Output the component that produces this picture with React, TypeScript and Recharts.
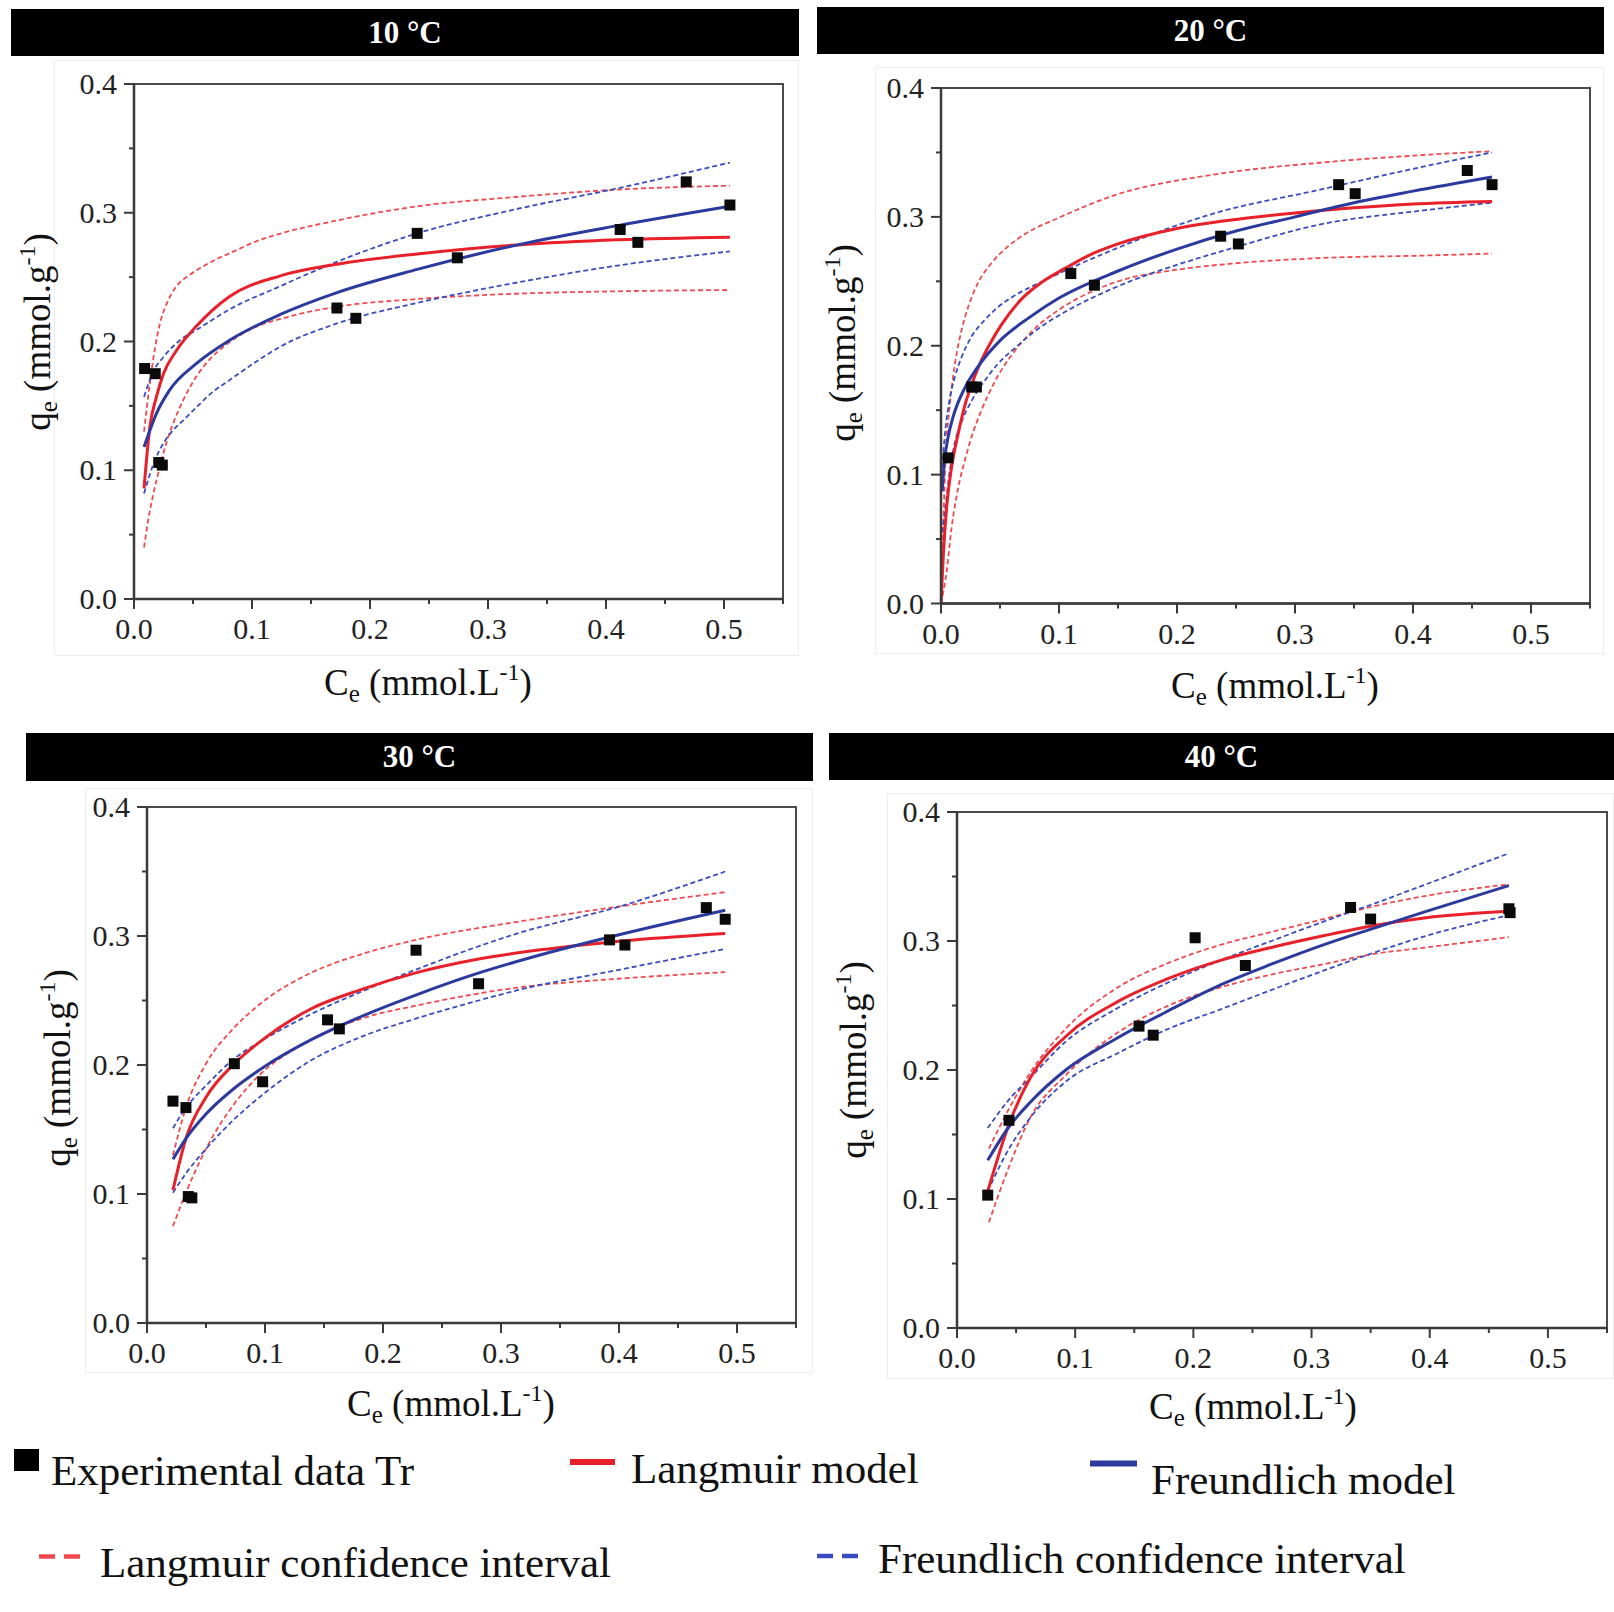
import React from 'react';
import { ComposedChart, Line, Scatter, XAxis, YAxis, ReferenceArea } from 'recharts';

type Pt = [number, number];

// ---------- tick / text data ----------
const X_TICKS = [0, 0.05, 0.1, 0.15, 0.2, 0.25, 0.3, 0.35, 0.4, 0.45, 0.5, 0.55];
const Y_TICKS = [0, 0.05, 0.1, 0.15, 0.2, 0.25, 0.3, 0.35, 0.4];
const PANEL_TITLES = ['10 °C', '20 °C', '30 °C', '40 °C'];
const LEGEND_LABELS = [
  'Experimental data Tr',
  'Langmuir model',
  'Freundlich model',
  'Langmuir confidence interval',
  'Freundlich confidence interval',
];

// ---------- 10 °C ----------
const P1_EXP: Pt[] = [[0.009, 0.179], [0.018, 0.175], [0.021, 0.106], [0.024, 0.104], [0.172, 0.226], [0.188, 0.218], [0.240, 0.284], [0.274, 0.265], [0.412, 0.287], [0.427, 0.277], [0.468, 0.324], [0.505, 0.306]];
const P1_LANG: Pt[] = [[0.0085, 0.086], [0.0135, 0.134], [0.019, 0.157], [0.025, 0.175], [0.036, 0.193], [0.053, 0.212], [0.081, 0.235], [0.124, 0.251], [0.172, 0.260], [0.24, 0.268], [0.325, 0.275], [0.41, 0.279], [0.505, 0.281]];
const P1_LANG_UP: Pt[] = [[0.0085, 0.130], [0.0135, 0.168], [0.018, 0.196], [0.022, 0.214], [0.028, 0.230], [0.036, 0.243], [0.046, 0.251], [0.056, 0.257], [0.07, 0.264], [0.087, 0.271], [0.104, 0.278], [0.121, 0.283], [0.172, 0.294], [0.24, 0.305], [0.32, 0.312], [0.41, 0.318], [0.505, 0.321]];
const P1_LANG_LO: Pt[] = [[0.0085, 0.040], [0.012, 0.061], [0.0165, 0.082], [0.022, 0.103], [0.028, 0.123], [0.033, 0.136], [0.042, 0.155], [0.053, 0.173], [0.064, 0.186], [0.076, 0.196], [0.1, 0.210], [0.13, 0.219], [0.172, 0.227], [0.24, 0.233], [0.32, 0.237], [0.41, 0.239], [0.505, 0.240]];
const P1_FREU: Pt[] = [[0.0085, 0.118], [0.019, 0.144], [0.030, 0.162], [0.053, 0.183], [0.081, 0.201], [0.124, 0.221], [0.172, 0.238], [0.24, 0.256], [0.33, 0.276], [0.41, 0.290], [0.505, 0.305]];
const P1_FREU_UP: Pt[] = [[0.0085, 0.157], [0.0165, 0.177], [0.025, 0.188], [0.039, 0.201], [0.053, 0.209], [0.081, 0.225], [0.124, 0.243], [0.146, 0.252], [0.189, 0.268], [0.24, 0.284], [0.32, 0.302], [0.41, 0.319], [0.505, 0.339]];
const P1_FREU_LO: Pt[] = [[0.0085, 0.082], [0.0178, 0.108], [0.025, 0.121], [0.033, 0.131], [0.042, 0.139], [0.053, 0.149], [0.067, 0.161], [0.081, 0.170], [0.103, 0.184], [0.124, 0.196], [0.172, 0.214], [0.24, 0.230], [0.32, 0.245], [0.41, 0.259], [0.505, 0.270]];

// ---------- 20 °C ----------
const P2_EXP: Pt[] = [[0.006, 0.113], [0.026, 0.168], [0.030, 0.168], [0.110, 0.256], [0.130, 0.247], [0.237, 0.285], [0.252, 0.279], [0.337, 0.325], [0.351, 0.318], [0.446, 0.336], [0.467, 0.325]];
const P2_LANG: Pt[] = [[0, 0], [0.002, 0.038], [0.0048, 0.075], [0.009, 0.106], [0.0146, 0.132], [0.020, 0.153], [0.026, 0.170], [0.0315, 0.183], [0.040, 0.199], [0.051, 0.216], [0.068, 0.236], [0.085, 0.249], [0.105, 0.260], [0.125, 0.270], [0.15, 0.279], [0.2, 0.291], [0.25, 0.298], [0.3, 0.303], [0.35, 0.307], [0.4, 0.310], [0.467, 0.312]];
const P2_LANG_UP: Pt[] = [[0, 0], [0.0015, 0.045], [0.0034, 0.103], [0.0076, 0.155], [0.0118, 0.186], [0.0174, 0.212], [0.023, 0.230], [0.0315, 0.249], [0.0427, 0.264], [0.0567, 0.277], [0.0736, 0.288], [0.099, 0.299], [0.1445, 0.316], [0.2326, 0.333], [0.3207, 0.342], [0.4088, 0.348], [0.467, 0.351]];
const P2_LANG_LO: Pt[] = [[0, 0], [0.0048, 0.025], [0.009, 0.059], [0.0146, 0.090], [0.0202, 0.111], [0.0258, 0.129], [0.0343, 0.150], [0.0455, 0.172], [0.06, 0.193], [0.078, 0.212], [0.1, 0.228], [0.13, 0.243], [0.15, 0.250], [0.2, 0.259], [0.25, 0.264], [0.32, 0.268], [0.41, 0.270], [0.467, 0.2715]];
const P2_FREU: Pt[] = [[0.001, 0.087], [0.003, 0.111], [0.006, 0.129], [0.01, 0.144], [0.02, 0.167], [0.03, 0.182], [0.05, 0.204], [0.075, 0.222], [0.1, 0.237], [0.15, 0.258], [0.2, 0.275], [0.25, 0.289], [0.3, 0.300], [0.35, 0.311], [0.4, 0.320], [0.467, 0.331]];
const P2_FREU_UP: Pt[] = [[0.001, 0.105], [0.0034, 0.132], [0.0076, 0.160], [0.0118, 0.176], [0.0174, 0.191], [0.0258, 0.207], [0.0371, 0.220], [0.0483, 0.230], [0.0624, 0.239], [0.0792, 0.247], [0.1045, 0.258], [0.1445, 0.274], [0.2326, 0.303], [0.3207, 0.321], [0.4088, 0.339], [0.467, 0.350]];
const P2_FREU_LO: Pt[] = [[0.001, 0.055], [0.0034, 0.072], [0.0076, 0.104], [0.0118, 0.125], [0.0174, 0.141], [0.0258, 0.157], [0.0371, 0.173], [0.0483, 0.186], [0.0624, 0.198], [0.0792, 0.211], [0.1045, 0.226], [0.13, 0.238], [0.1445, 0.244], [0.2515, 0.277], [0.3207, 0.294], [0.4088, 0.305], [0.467, 0.311]];

// ---------- 30 °C ----------
const P3_EXP: Pt[] = [[0.022, 0.172], [0.033, 0.167], [0.035, 0.098], [0.038, 0.097], [0.074, 0.201], [0.098, 0.187], [0.153, 0.235], [0.163, 0.228], [0.228, 0.289], [0.281, 0.263], [0.392, 0.297], [0.405, 0.293], [0.474, 0.322], [0.490, 0.313]];
const P3_LANG: Pt[] = [[0.022, 0.103], [0.033, 0.143], [0.05, 0.175], [0.074, 0.201], [0.1, 0.221], [0.14, 0.244], [0.18, 0.258], [0.23, 0.272], [0.28, 0.282], [0.34, 0.290], [0.4, 0.296], [0.49, 0.302]];
const P3_LANG_UP: Pt[] = [[0.022, 0.130], [0.033, 0.167], [0.050, 0.201], [0.074, 0.229], [0.094, 0.246], [0.138, 0.271], [0.182, 0.286], [0.228, 0.297], [0.314, 0.311], [0.401, 0.323], [0.490, 0.334]];
const P3_LANG_LO: Pt[] = [[0.022, 0.075], [0.033, 0.101], [0.050, 0.135], [0.074, 0.170], [0.094, 0.191], [0.138, 0.219], [0.182, 0.236], [0.228, 0.246], [0.314, 0.260], [0.401, 0.267], [0.490, 0.272]];
const P3_FREU: Pt[] = [[0.022, 0.127], [0.033, 0.143], [0.05, 0.162], [0.074, 0.182], [0.1, 0.199], [0.14, 0.220], [0.18, 0.237], [0.23, 0.255], [0.28, 0.271], [0.34, 0.287], [0.4, 0.301], [0.49, 0.320]];
const P3_FREU_UP: Pt[] = [[0.022, 0.151], [0.033, 0.167], [0.050, 0.184], [0.074, 0.205], [0.094, 0.217], [0.138, 0.239], [0.182, 0.257], [0.228, 0.274], [0.314, 0.302], [0.401, 0.323], [0.490, 0.350]];
const P3_FREU_LO: Pt[] = [[0.022, 0.101], [0.033, 0.116], [0.050, 0.135], [0.074, 0.158], [0.098, 0.177], [0.138, 0.203], [0.182, 0.222], [0.228, 0.236], [0.281, 0.250], [0.314, 0.258], [0.401, 0.274], [0.490, 0.290]];

// ---------- 40 °C ----------
const P4_EXP: Pt[] = [[0.026, 0.103], [0.044, 0.161], [0.154, 0.234], [0.166, 0.227], [0.2015, 0.3025], [0.244, 0.281], [0.333, 0.326], [0.350, 0.317], [0.467, 0.325], [0.468, 0.322]];
const P4_LANG: Pt[] = [[0.026, 0.106], [0.044, 0.158], [0.062, 0.194], [0.092, 0.226], [0.136, 0.253], [0.179, 0.271], [0.223, 0.285], [0.266, 0.295], [0.310, 0.304], [0.353, 0.312], [0.397, 0.318], [0.467, 0.323]];
const P4_LANG_UP: Pt[] = [[0.027, 0.139], [0.044, 0.170], [0.062, 0.198], [0.092, 0.232], [0.136, 0.264], [0.179, 0.283], [0.223, 0.297], [0.266, 0.307], [0.310, 0.317], [0.353, 0.327], [0.397, 0.335], [0.467, 0.344]];
const P4_LANG_LO: Pt[] = [[0.027, 0.082], [0.044, 0.125], [0.062, 0.163], [0.092, 0.196], [0.136, 0.229], [0.179, 0.250], [0.223, 0.264], [0.266, 0.274], [0.310, 0.282], [0.353, 0.290], [0.397, 0.295], [0.467, 0.303]];
const P4_FREU: Pt[] = [[0.026, 0.130], [0.044, 0.156], [0.062, 0.175], [0.092, 0.200], [0.136, 0.225], [0.179, 0.246], [0.223, 0.266], [0.266, 0.282], [0.310, 0.297], [0.353, 0.310], [0.397, 0.323], [0.467, 0.343]];
const P4_FREU_UP: Pt[] = [[0.026, 0.155], [0.044, 0.177], [0.062, 0.194], [0.092, 0.222], [0.136, 0.248], [0.179, 0.268], [0.223, 0.285], [0.266, 0.300], [0.310, 0.315], [0.353, 0.329], [0.397, 0.344], [0.467, 0.368]];
const P4_FREU_LO: Pt[] = [[0.026, 0.106], [0.044, 0.139], [0.062, 0.163], [0.092, 0.191], [0.136, 0.213], [0.179, 0.232], [0.223, 0.247], [0.266, 0.262], [0.310, 0.277], [0.353, 0.291], [0.397, 0.304], [0.467, 0.320]];

// ---------- styles / layout ----------
const SERIF = '"Liberation Serif", "Times New Roman", Times, serif';
const AXIS = '#3a3a3a';
const RED = '#e8202a';
const BLUE = '#2c3a9e';
const RED_D = '#ef4a50';
const BLUE_D = '#3a4cc0';

const YW = 130;
const XH = 110;
const MT = 30;
const MR = 15;

type Box = { l: number; t: number; r: number; b: number };
type PanelSpec = {
  title: string;
  series: Pt[][];
  plot: Box;
  bar: Box;
  frame: Box;
  xTitle: { cx: number; by: number };
  yTitle: { bx: number; cy: number };
};

const PANELS: PanelSpec[] = [
  {
    title: PANEL_TITLES[0],
    series: [P1_EXP, P1_LANG, P1_LANG_UP, P1_LANG_LO, P1_FREU, P1_FREU_UP, P1_FREU_LO],
    plot: { l: 134, t: 84, r: 783, b: 599 },
    bar: { l: 11, t: 9, r: 799, b: 56 },
    frame: { l: 54, t: 60, r: 799, b: 656 },
    xTitle: { cx: 428, by: 695 },
    yTitle: { bx: 50, cy: 332 },
  },
  {
    title: PANEL_TITLES[1],
    series: [P2_EXP, P2_LANG, P2_LANG_UP, P2_LANG_LO, P2_FREU, P2_FREU_UP, P2_FREU_LO],
    plot: { l: 941, t: 87.5, r: 1590, b: 603 },
    bar: { l: 817, t: 7, r: 1604, b: 54 },
    frame: { l: 875, t: 67, r: 1604, b: 654 },
    xTitle: { cx: 1275, by: 698 },
    yTitle: { bx: 855, cy: 343 },
  },
  {
    title: PANEL_TITLES[2],
    series: [P3_EXP, P3_LANG, P3_LANG_UP, P3_LANG_LO, P3_FREU, P3_FREU_UP, P3_FREU_LO],
    plot: { l: 147, t: 807, r: 796, b: 1323 },
    bar: { l: 26, t: 733, r: 813, b: 781 },
    frame: { l: 85, t: 788, r: 813, b: 1373 },
    xTitle: { cx: 451, by: 1416 },
    yTitle: { bx: 70, cy: 1068 },
  },
  {
    title: PANEL_TITLES[3],
    series: [P4_EXP, P4_LANG, P4_LANG_UP, P4_LANG_LO, P4_FREU, P4_FREU_UP, P4_FREU_LO],
    plot: { l: 957, t: 812, r: 1607, b: 1328 },
    bar: { l: 829, t: 733, r: 1614, b: 780 },
    frame: { l: 887, t: 793, r: 1614, b: 1379 },
    xTitle: { cx: 1253, by: 1419 },
    yTitle: { bx: 866, cy: 1060 },
  },
];

const toXY = (arr: Pt[]) => arr.map(([x, y]) => ({ x, y }));
const isMajor = (v: number) => Math.abs(v * 10 - Math.round(v * 10)) < 1e-6;

const XTick = (props: any) => {
  const { x, y, payload } = props;
  const v = payload.value as number;
  const major = isMajor(v);
  return (
    <g>
      <line x1={x} x2={x} y1={y} y2={y + (major ? 10 : 5)} stroke={AXIS} strokeWidth={2} />
      {major && (
        <text x={x} y={y + 40} textAnchor="middle" fontFamily={SERIF} fontSize={30} fill="#222">
          {v.toFixed(1)}
        </text>
      )}
    </g>
  );
};

const YTick = (props: any) => {
  const { x, y, payload } = props;
  const v = payload.value as number;
  const major = isMajor(v);
  return (
    <g>
      <line x1={x - (major ? 10 : 5)} x2={x} y1={y} y2={y} stroke={AXIS} strokeWidth={2} />
      {major && (
        <text x={x - 17} y={y + 10} textAnchor="end" fontFamily={SERIF} fontSize={30} fill="#222">
          {v.toFixed(1)}
        </text>
      )}
    </g>
  );
};

const Square = (props: any) => {
  const { cx, cy } = props;
  if (cx == null || cy == null) return null;
  return <rect x={cx - 5.5} y={cy - 5.5} width={11} height={11} fill="#0a0a0a" />;
};

function Panel({ p }: { p: PanelSpec }) {
  const { l, t, r, b } = p.plot;
  const width = r - l + YW + MR;
  const height = b - t + MT + XH;
  const [exp, lang, langUp, langLo, freu, freuUp, freuLo] = p.series;
  const dashed = { strokeWidth: 1.8, strokeDasharray: '5 3', dot: false, activeDot: false, isAnimationActive: false, type: 'monotone' as const };
  const solid = { strokeWidth: 3, dot: false, activeDot: false, isAnimationActive: false, type: 'monotone' as const };
  return (
    <div style={{ position: 'absolute', left: l - YW, top: t - MT }}>
      <ComposedChart width={width} height={height} margin={{ top: MT, right: MR, bottom: 0, left: 0 }}>
        <XAxis
          dataKey="x"
          type="number"
          domain={[0, 0.55]}
          ticks={X_TICKS}
          interval={0}
          allowDataOverflow
          height={XH}
          tickSize={0}
          tickMargin={0}
          tickLine={false}
          tick={XTick}
          axisLine={{ stroke: AXIS, strokeWidth: 2.5 }}
        />
        <YAxis
          dataKey="y"
          type="number"
          domain={[0, 0.4]}
          ticks={Y_TICKS}
          interval={0}
          allowDataOverflow
          width={YW}
          tickSize={0}
          tickMargin={0}
          tickLine={false}
          tick={YTick}
          axisLine={{ stroke: AXIS, strokeWidth: 2.5 }}
        />
        <ReferenceArea x1={0} x2={0.55} y1={0} y2={0.4} fill="none" fillOpacity={0} stroke="#4a4a4a" strokeWidth={2} ifOverflow="visible" />
        <Scatter data={toXY(exp)} dataKey="y" fill="#000" shape={Square} isAnimationActive={false} />
        <Line data={toXY(langUp)} dataKey="y" stroke={RED_D} {...dashed} />
        <Line data={toXY(langLo)} dataKey="y" stroke={RED_D} {...dashed} />
        <Line data={toXY(freuUp)} dataKey="y" stroke={BLUE_D} {...dashed} />
        <Line data={toXY(freuLo)} dataKey="y" stroke={BLUE_D} {...dashed} />
        <Line data={toXY(lang)} dataKey="y" stroke={RED} {...solid} />
        <Line data={toXY(freu)} dataKey="y" stroke={BLUE} {...solid} />
      </ComposedChart>
    </div>
  );
}

const XTitle = ({ cx, by }: { cx: number; by: number }) => (
  <text x={cx} y={by} textAnchor="middle" fontFamily={SERIF} fontSize={37} fill="#111" style={{ whiteSpace: 'pre' }}>
    C<tspan fontSize={25} dy={7}>e</tspan>
    <tspan dy={-7}>{' (mmol.L'}</tspan>
    <tspan fontSize={24} dy={-15}>-1</tspan>
    <tspan dy={15}>)</tspan>
  </text>
);

const YTitle = ({ bx, cy }: { bx: number; cy: number }) => (
  <text
    x={bx}
    y={cy}
    transform={`rotate(-90 ${bx} ${cy})`}
    textAnchor="middle"
    fontFamily={SERIF}
    fontSize={37}
    fill="#111"
    style={{ whiteSpace: 'pre' }}
  >
    q<tspan fontSize={25} dy={7}>e</tspan>
    <tspan dy={-7}>{' (mmol.g'}</tspan>
    <tspan fontSize={24} dy={-15}>-1</tspan>
    <tspan dy={15}>)</tspan>
  </text>
);

export default function App() {
  return (
    <div style={{ position: 'absolute', left: 0, top: 0, width: 1614, height: 1612, background: '#fff', overflow: 'hidden' }}>
      {PANELS.map((p, i) => (
        <React.Fragment key={'f' + i}>
          <div
            style={{
              position: 'absolute',
              left: p.frame.l,
              top: p.frame.t,
              width: p.frame.r - p.frame.l,
              height: p.frame.b - p.frame.t,
              border: '1px solid #ececec',
              boxSizing: 'border-box',
            }}
          />
          <div
            style={{
              position: 'absolute',
              left: p.bar.l,
              top: p.bar.t,
              width: p.bar.r - p.bar.l,
              height: p.bar.b - p.bar.t,
              background: '#000',
              color: '#fff',
              fontFamily: SERIF,
              fontWeight: 'bold',
              fontSize: 31,
              display: 'flex',
              alignItems: 'center',
              justifyContent: 'center',
            }}
          >
            {p.title}
          </div>
        </React.Fragment>
      ))}
      {PANELS.map((p, i) => (
        <Panel key={'p' + i} p={p} />
      ))}
      <svg width={1614} height={1612} style={{ position: 'absolute', left: 0, top: 0, pointerEvents: 'none' }}>
        {PANELS.map((p, i) => (
          <g key={'t' + i}>
            <XTitle cx={p.xTitle.cx} by={p.xTitle.by} />
            <YTitle bx={p.yTitle.bx} cy={p.yTitle.cy} />
          </g>
        ))}
        <g fontFamily={SERIF} fontSize={43} fill="#111">
          <rect x={14} y={1449} width={25} height={22} fill="#000" />
          <text x={51} y={1485}>{LEGEND_LABELS[0]}</text>
          <line x1={570} x2={615} y1={1462} y2={1462} stroke={RED} strokeWidth={6} />
          <text x={631} y={1483}>{LEGEND_LABELS[1]}</text>
          <line x1={1090} x2={1137} y1={1463.5} y2={1463.5} stroke={BLUE} strokeWidth={6} />
          <text x={1151} y={1494}>{LEGEND_LABELS[2]}</text>
          <line x1={39} x2={80} y1={1556.5} y2={1556.5} stroke={RED_D} strokeWidth={4.5} strokeDasharray="16 9" />
          <text x={100} y={1577}>{LEGEND_LABELS[3]}</text>
          <line x1={817} x2={859} y1={1556} y2={1556} stroke={BLUE_D} strokeWidth={4.5} strokeDasharray="16 9" />
          <text x={878} y={1573}>{LEGEND_LABELS[4]}</text>
        </g>
      </svg>
    </div>
  );
}
